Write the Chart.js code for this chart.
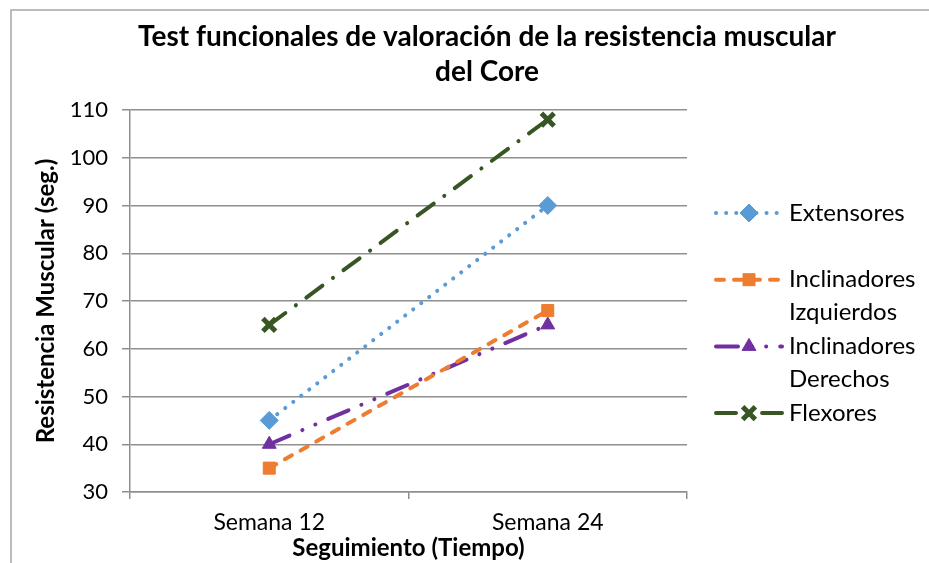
<!DOCTYPE html>
<html>
<head>
<meta charset="utf-8">
<script src="https://cdn.jsdelivr.net/npm/chart.js@4.4.1/dist/chart.umd.min.js"></script>
<style>
  html, body { margin: 0; padding: 0; background: #fff; }
  #wrap { position: relative; width: 929px; height: 563px; }
</style>
</head>
<body>
<div id="wrap"><canvas id="myChart" width="929" height="563"></canvas></div>
<script>
// data
const categories = ['Semana 12', 'Semana 24'];
const extensores = [45, 90];
const inclinadoresIzquierdos = [35, 68];
const inclinadoresDerechos = [40, 65];
const flexores = [65, 108];
const seriesNames = ['Extensores', 'Inclinadores Izquierdos', 'Inclinadores Derechos', 'Flexores'];
const yMin = 30, yMax = 110, yStep = 10;
const chartTitle = ['Test funcionales de valoración de la resistencia muscular', 'del Core'];
const xTitle = 'Seguimiento (Tiempo)';
const yTitle = 'Resistencia Muscular (seg.)';

const FONT = 'Lato, "Liberation Sans", sans-serif';
const GRID = '#8f8f8f';

// marker drawing shared by the legend
function drawMarker(ctx, style, x, y, r, color, bw) {
    ctx.save();
    ctx.setLineDash([]);
    ctx.fillStyle = color;
    ctx.strokeStyle = color;
    ctx.lineWidth = bw;
    ctx.beginPath();
    if (style === 'rectRot') {
        ctx.moveTo(x, y - r); ctx.lineTo(x + r, y); ctx.lineTo(x, y + r); ctx.lineTo(x - r, y); ctx.closePath();
        ctx.fill(); ctx.stroke();
    } else if (style === 'rect') {
        const s = r * Math.SQRT1_2;
        ctx.rect(x - s, y - s, 2 * s, 2 * s); ctx.fill(); ctx.stroke();
    } else if (style === 'triangle') {
        ctx.moveTo(x, y - r);
        ctx.lineTo(x + r * Math.sin(Math.PI / 3), y + r * 0.5);
        ctx.lineTo(x - r * Math.sin(Math.PI / 3), y + r * 0.5);
        ctx.closePath(); ctx.fill(); ctx.stroke();
    } else if (style === 'crossRot') {
        const d = r * Math.SQRT1_2;
        ctx.moveTo(x - d, y - d); ctx.lineTo(x + d, y + d);
        ctx.moveTo(x + d, y - d); ctx.lineTo(x - d, y + d);
        ctx.stroke();
    }
    ctx.restore();
}

const frameAndText = {
    id: 'frameAndText',
    beforeDraw(chart) {
        const ctx = chart.ctx;
        ctx.save();
        ctx.strokeStyle = '#a6a6a6';
        ctx.lineWidth = 1.5;
        ctx.beginPath();
        ctx.moveTo(11, chart.height);
        ctx.lineTo(11, 10);
        ctx.lineTo(chart.width, 10);
        ctx.stroke();
        ctx.restore();
    },
    afterDraw(chart) {
        const ctx = chart.ctx;
        ctx.save();
        // title
        ctx.fillStyle = '#000';
        ctx.font = 'bold 28px ' + FONT;
        ctx.textAlign = 'center';
        ctx.textBaseline = 'middle';
        ctx.fillText(chartTitle[0], 487, 37);
        ctx.fillText(chartTitle[1], 487, 72);

        // legend
        ctx.font = '24px ' + FONT;
        ctx.textAlign = 'left';
        chart.data.datasets.forEach((ds, i) => {
            const y = 213 + i * 66.7;
            ctx.save();
            ctx.strokeStyle = ds.borderColor;
            ctx.lineWidth = ds.borderWidth;
            ctx.lineCap = ds.borderCapStyle;
            ctx.setLineDash(ds.borderDash);
            ctx.beginPath();
            ctx.moveTo(716, y);
            ctx.lineTo(782, y);
            ctx.stroke();
            ctx.restore();
            drawMarker(ctx, ds.pointStyle, 749, y, ds.pointRadius, ds.pointBackgroundColor, ds.pointBorderWidth);

            const words = ds.label.split(' ');
            const lines = ctx.measureText(ds.label).width > 135 ? words : [ds.label];
            ctx.fillStyle = '#000';
            lines.forEach((t, j) => ctx.fillText(t, 789, y + j * 33));
        });
        ctx.restore();
    }
};

const ctx = document.getElementById('myChart');
const myChart = new Chart(ctx, {
    type: 'line',
    data: {
        labels: categories,
        datasets: [
            {
                label: seriesNames[0],
                data: extensores,
                borderColor: '#5B9BD5',
                borderWidth: 4,
                borderDash: [0.1, 10],
                borderCapStyle: 'round',
                pointStyle: 'rectRot',
                pointRadius: 9,
                pointBorderWidth: 1,
                pointBackgroundColor: '#5B9BD5',
                pointBorderColor: '#5B9BD5'
            },
            {
                label: seriesNames[1],
                data: inclinadoresIzquierdos,
                borderColor: '#ED7D31',
                borderWidth: 4,
                borderDash: [8, 10],
                borderCapStyle: 'round',
                pointStyle: 'rect',
                pointRadius: 8.5,
                pointBorderWidth: 1,
                pointBackgroundColor: '#ED7D31',
                pointBorderColor: '#ED7D31'
            },
            {
                label: seriesNames[2],
                data: inclinadoresDerechos,
                borderColor: '#7030A0',
                borderWidth: 4,
                borderDash: [22, 14, 0.1, 14, 0.1, 14],
                borderCapStyle: 'round',
                pointStyle: 'triangle',
                pointRadius: 8,
                pointBorderWidth: 1,
                pointBackgroundColor: '#7030A0',
                pointBorderColor: '#7030A0'
            },
            {
                label: seriesNames[3],
                data: flexores,
                borderColor: '#375623',
                borderWidth: 4,
                borderDash: [20, 13, 0.1, 13],
                borderCapStyle: 'round',
                pointStyle: 'crossRot',
                pointRadius: 9,
                pointBorderWidth: 5,
                pointBackgroundColor: '#375623',
                pointBorderColor: '#375623'
            }
        ]
    },
    options: {
        responsive: false,
        animation: false,
        events: [],
        layout: { padding: { top: 110, right: 242, bottom: 0, left: 0 } },
        plugins: {
            legend: { display: false },
            title: { display: false },
            tooltip: { enabled: false }
        },
        scales: {
            x: {
                offset: true,
                afterFit(s) { s.height = 71; },
                grid: { drawOnChartArea: false, drawTicks: true, tickLength: 7, color: GRID, lineWidth: 1.5, offset: true },
                border: { display: true, color: GRID, width: 1.5 },
                ticks: { color: '#000', font: { family: FONT, size: 23 }, padding: 10 },
                title: { display: true, text: xTitle, color: '#000', font: { family: FONT, size: 24, weight: 'bold' }, padding: { top: 0, bottom: 0 } }
            },
            y: {
                min: yMin,
                max: yMax,
                afterFit(s) { s.width = 130; },
                grid: { color: GRID, lineWidth: 1.5, tickLength: 8, drawTicks: true },
                border: { display: true, color: GRID, width: 1.5 },
                ticks: { stepSize: yStep, color: '#000', font: { family: FONT, size: 22 }, padding: 14 },
                title: { display: true, text: yTitle, color: '#000', font: { family: FONT, size: 24, weight: 'bold' }, padding: { top: 32, bottom: 0 } }
            }
        }
    },
    plugins: [frameAndText]
});
</script>
</body>
</html>
